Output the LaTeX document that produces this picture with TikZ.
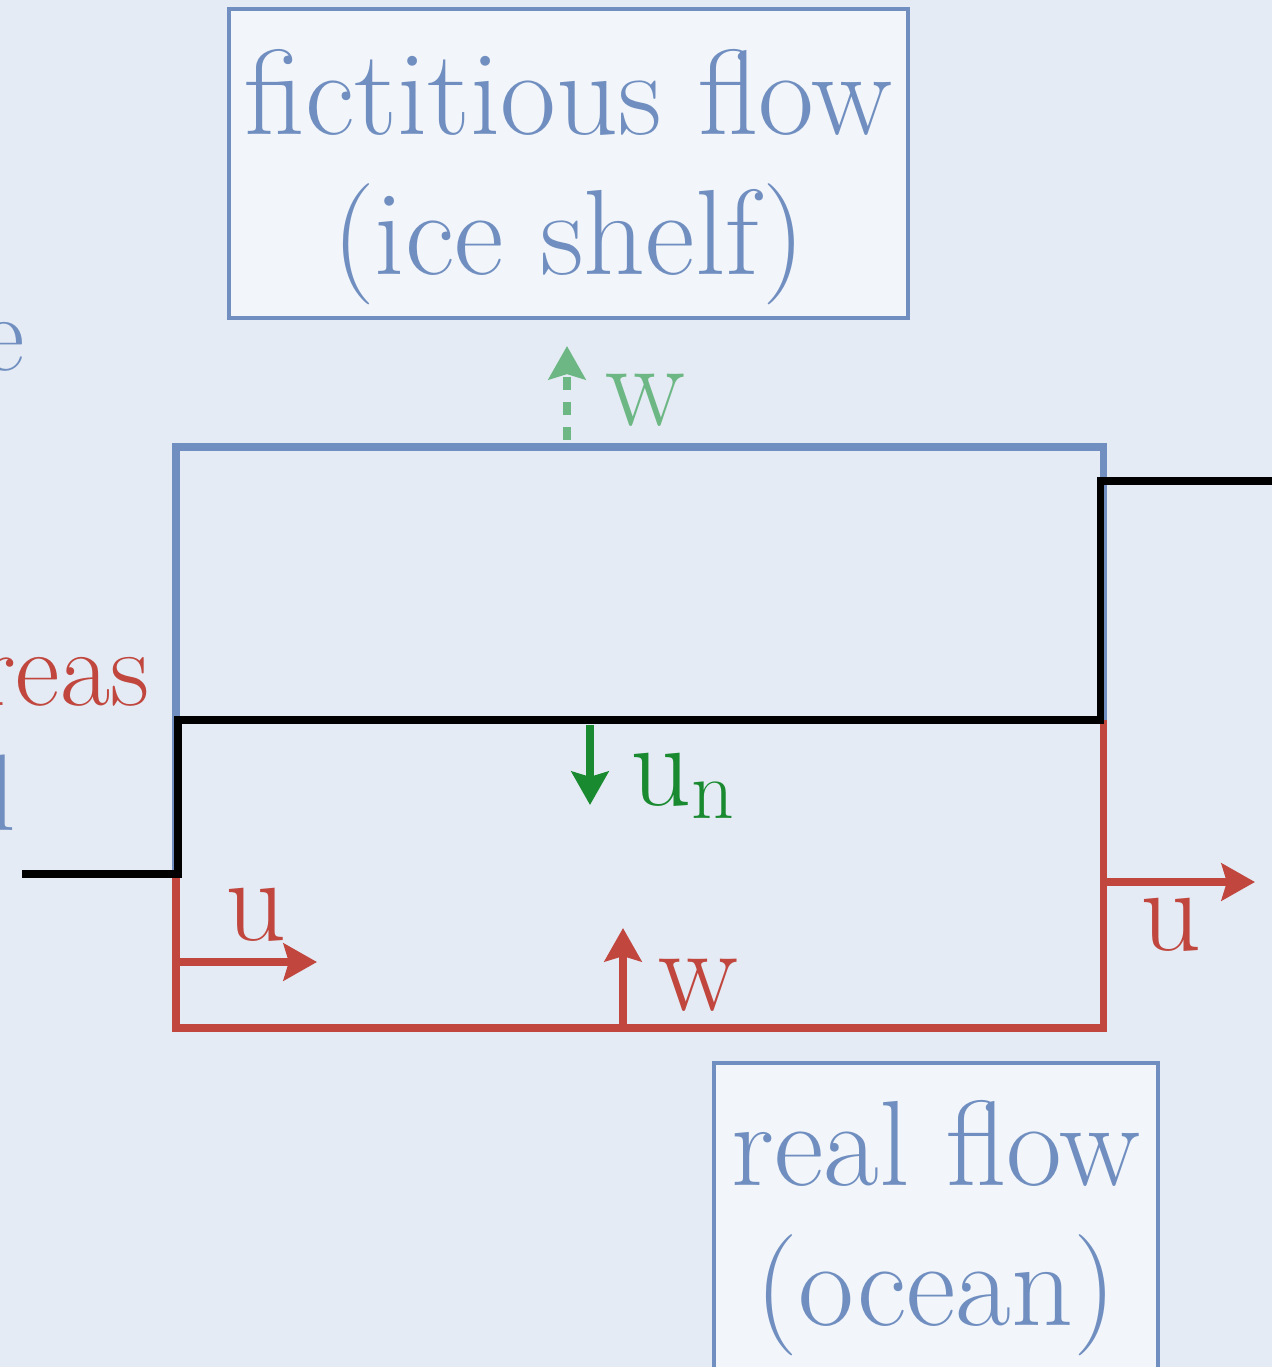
\documentclass[tikz,border=0pt]{standalone}
\usepackage{fontspec}
\usepackage{tikz}
\usetikzlibrary{arrows.meta, positioning}
\definecolor{paper}{RGB}{228,235,244}
\definecolor{boxfill}{RGB}{242,245,250}
\definecolor{iceblue}{RGB}{112,143,192}
\definecolor{oceanred}{RGB}{192,70,62}
\definecolor{lightgreen}{RGB}{108,183,132}
\definecolor{darkgreen}{RGB}{26,138,48}
\newcommand{\bigtext}{\fontsize{34.5}{40}\selectfont}
\newcommand{\vectext}{\fontsize{34}{40}\selectfont}
\newcommand{\sidefont}{\fontsize{31}{40}\selectfont}
\tikzset{
  flowbox/.style={rectangle, draw=iceblue, fill=boxfill, line width=1pt,
                  align=center, text=iceblue, font=\bigtext, inner sep=0pt},
  sidetext/.style={font=\sidefont, inner sep=0pt},
  wall/.style={line width=2pt},
  vec/.style={-{Stealth[length=9.5pt, width=10.5pt, inset=1.5pt]}, line width=2pt},
  veclabel/.style={font=\vectext, inner sep=0pt},
}

\begin{document}
\begin{tikzpicture}[x=0.1mm, y=-0.1mm]
  \useasboundingbox (0,0) rectangle (1272,1367);
  \clip (0,0) rectangle (1272,1367);
  \fill[paper] (0,0) rectangle (1272,1367);

  % Boxes
  \node[flowbox, minimum width=67.9mm, minimum height=30.9mm] (topbox)
    at (568.5,163.5) {\rule{0pt}{32pt}fictitious flow\\(ice shelf)};
  \node[flowbox, minimum width=44.4mm, minimum height=33mm] (bottombox)
    at (936,1228) {real flow\\(ocean)};

  % Cut-off side text
  \node[sidetext, text=iceblue, anchor=base east] (sidee) at (25,370) {e};
  \node[sidetext, text=oceanred, anchor=base east] (sidereas) at (150,705) {reas};
  \node[sidetext, text=iceblue, anchor=base east] (sidel) at (16,830) {l};

  % Domain
  \coordinate (inL) at (22,874);
  \coordinate (stepL) at (178,874);
  \coordinate (stepR) at (1100,720);
  \coordinate (outR) at (1272,481);
  \draw[wall, iceblue] (176,447) rectangle (1103,1028);
  \draw[wall, oceanred] (176,874) |- (1103,1028) -- (1103,720);
  \draw[wall, black] (inL) -- (stepL) |- (stepR) |- (outR);

  % Velocities
  \coordinate (wtop0) at (567,440);
  \coordinate (wtop1) at (567,346);
  \draw[vec, lightgreen, dash pattern=on 1.3mm off 1.2mm] (wtop0) -- (wtop1);
  \node[veclabel, text=lightgreen, anchor=base west] (wup) at (605,425) {w};

  \coordinate (un0) at (590,725);
  \coordinate (un1) at (590,805);
  \draw[vec, darkgreen] (un0) -- (un1);
  \node[veclabel, text=darkgreen, anchor=base west] (unlabel) at (630,805)
    {u\textsubscript{n}};

  \coordinate (uin0) at (178,962);
  \coordinate (uin1) at (317,962);
  \draw[vec, oceanred] (uin0) -- (uin1);
  \node[veclabel, text=oceanred, anchor=base west] (uin) at (225,940) {u};

  \coordinate (wb0) at (623,1024);
  \coordinate (wb1) at (623,928);
  \draw[vec, oceanred] (wb0) -- (wb1);
  \node[veclabel, text=oceanred, anchor=base west] (wbottom) at (658,1010) {w};

  \coordinate (uout0) at (1103,882);
  \coordinate (uout1) at (1255,882);
  \draw[vec, oceanred] (uout0) -- (uout1);
  \node[veclabel, text=oceanred, anchor=base west] (uout) at (1140,950) {u};
\end{tikzpicture}
\end{document}
